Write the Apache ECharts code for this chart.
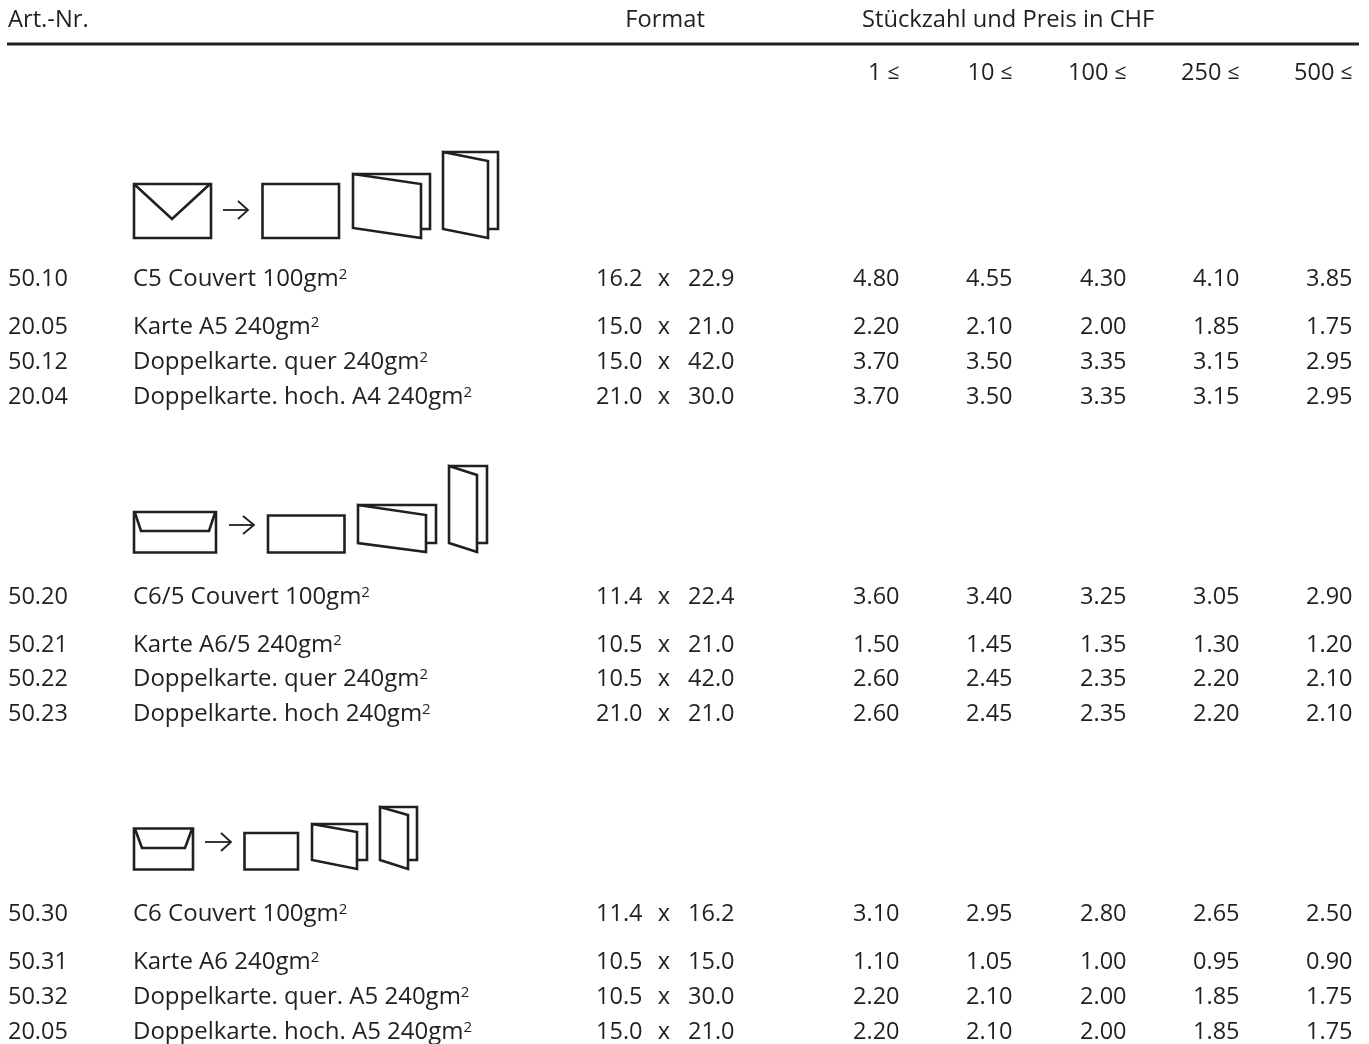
<!DOCTYPE html>
<html><head><meta charset="utf-8">
<style>html,body{margin:0;padding:0;background:#fff}#c{width:1369px;height:1044px}</style>
<script src="https://cdn.jsdelivr.net/npm/echarts@6/dist/echarts.min.js"></script>
</head><body><div id="c"></div>
<script>
// ---- data ----
const articleNos = ['50.10','20.05','50.12','20.04','50.20','50.21','50.22','50.23','50.30','50.31','50.32','20.05'];
const productNames = ['C5 Couvert 100gm','Karte A5 240gm','Doppelkarte. quer 240gm','Doppelkarte. hoch. A4 240gm',
  'C6/5 Couvert 100gm','Karte A6/5 240gm','Doppelkarte. quer 240gm','Doppelkarte. hoch 240gm',
  'C6 Couvert 100gm','Karte A6 240gm','Doppelkarte. quer. A5 240gm','Doppelkarte. hoch. A5 240gm'];
const formatHeight = ['16.2','15.0','15.0','21.0','11.4','10.5','10.5','21.0','11.4','10.5','10.5','15.0'];
const formatWidth  = ['22.9','21.0','42.0','30.0','22.4','21.0','42.0','21.0','16.2','15.0','30.0','21.0'];
const priceFrom1   = ['4.80','2.20','3.70','3.70','3.60','1.50','2.60','2.60','3.10','1.10','2.20','2.20'];
const priceFrom10  = ['4.55','2.10','3.50','3.50','3.40','1.45','2.45','2.45','2.95','1.05','2.10','2.10'];
const priceFrom100 = ['4.30','2.00','3.35','3.35','3.25','1.35','2.35','2.35','2.80','1.00','2.00','2.00'];
const priceFrom250 = ['4.10','1.85','3.15','3.15','3.05','1.30','2.20','2.20','2.65','0.95','1.85','1.85'];
const priceFrom500 = ['3.85','1.75','2.95','2.95','2.90','1.20','2.10','2.10','2.50','0.90','1.75','1.75'];
const quantityLabels = ['1','10','100','250','500'];
const headers = ['Art.-Nr.','Format','Stückzahl und Preis in CHF'];

// ---- layout ----
const rowY = [279,327,362,397,597,645,679,714,914,962,997,1032];
const priceX = [899.5,1012.5,1126.5,1239.5,1352.5];
const FONT = '"Open Sans", sans-serif';
const NUM = 23.5, NAME = 24, HEAD = 23.7;
const INK = '#231f20';
const closed = [
 [[134,184],[211,184],[211,238],[134,238]], [[262.5,184],[339,184],[339,238],[262.5,238]],
 [[353,174],[421,184],[421,238],[353,228]], [[443,152],[488,161],[488,238],[443,229]],
 [[134,512],[216,512],[216,552.5],[134,552.5]], [[268,515.5],[344.5,515.5],[344.5,552.5],[268,552.5]],
 [[358,505],[426,515],[426,552],[358,543]], [[449,466],[477,475],[477,552],[449,543]],
 [[134,828.5],[193,828.5],[193,869.5],[134,869.5]], [[244.5,833],[298,833],[298,869.5],[244.5,869.5]],
 [[312,824],[357,832],[357,869],[312,860]], [[380,807],[408,815],[408,869],[380,860]]
];
const open = [
 [[134,184],[172,219],[210,184]], [[353,174],[430,174],[430,229],[421,229]], [[443,152],[498,152],[498,229],[488,229]],
 [[135,513],[141,531],[209,531],[215,513]], [[358,505],[436,505],[436,543],[426,543]], [[449,466],[487,466],[487,543],[477,543]],
 [[135,829],[142,848],[185,848],[192,829]], [[312,824],[367,824],[367,860],[357,860]], [[380,807],[417,807],[417,860],[408,860]]
];
const arrows = [
 [[223,210],[248,210]], [[238,201],[248,210],[238,219]],
 [[229,525],[254,525]], [[243,516],[254,525],[243,534]],
 [[205,842],[231,842]], [[221,833],[231,842],[221,851]]
];
const rule = [[7,44],[1359,44]];

// ---- cells ----
const cells = [];
const add = (x,y,t,a,s) => cells.push({x,y,t,a,s});
add(8,20,headers[0],'left',HEAD); add(665,20,headers[1],'center',HEAD); add(862,20,headers[2],'left',HEAD);
quantityLabels.forEach((q,i)=>add(priceX[i],73,q+' {le|≤}','right',NUM));
const cols=[priceFrom1,priceFrom10,priceFrom100,priceFrom250,priceFrom500];
rowY.forEach((y,r)=>{
  add(8,y,articleNos[r],'left',NUM);
  add(133,y,productNames[r]+'{s|2}','left',NAME);
  add(642.5,y,formatHeight[r],'right',NUM); add(664,y,'x','center',NUM); add(734.5,y,formatWidth[r],'right',NUM);
  cols.forEach((c,i)=>add(priceX[i],y,c[r],'right',NUM));
});
const rich={s:{fontFamily:FONT,fontSize:15,fill:INK,color:INK,verticalAlign:'top',padding:[0,0,8,0]},
            le:{fontFamily:FONT,fontSize:21,color:INK}};
const toPts=(api,pts)=>pts.map(p=>api.coord(p));
const lineSeries=(list,width,closeIt)=>({
  type:'custom',coordinateSystem:'cartesian2d',silent:true,
  data:list.map((_,i)=>[i,0]),
  encode:{x:0,y:1},clip:false,
  renderItem:(p,api)=>({type:closeIt?'polygon':'polyline',
    shape:{points:toPts(api,list[p.dataIndex])},
    style:{fill:closeIt?'none':null,stroke:INK,lineWidth:width,lineJoin:'miter'}})
});
const option={
  animation:false,backgroundColor:'#fff',
  grid:{left:0,right:0,top:0,bottom:0},
  xAxis:{type:'value',min:0,max:1369,show:false},
  yAxis:{type:'value',min:0,max:1044,inverse:true,show:false},
  series:[
    lineSeries(closed,2.6,true),
    lineSeries(open,2.6,false),
    lineSeries(arrows,1.8,false),
    lineSeries([rule],2.8,false),
    {type:'custom',coordinateSystem:'cartesian2d',silent:true,clip:false,
     data:cells.map(c=>[c.x,c.y]),encode:{x:0,y:1},
     renderItem:(p,api)=>{const c=cells[p.dataIndex];const q=api.coord([c.x,c.y]);
       return {type:'text',x:q[0],y:q[1],style:{text:c.t,align:c.a,verticalAlign:'middle',
         fontFamily:FONT,fontSize:c.s,fill:INK,rich}};}}
  ]
};
echarts.init(document.getElementById('c'),null,{renderer:'canvas'}).setOption(option);
</script></body></html>
